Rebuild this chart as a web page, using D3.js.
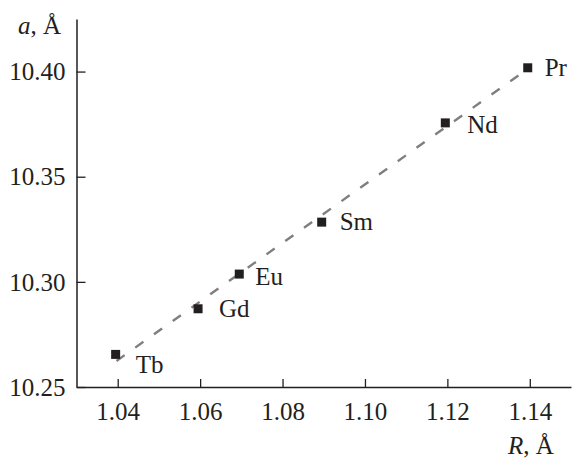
<!DOCTYPE html>
<html>
<head>
<meta charset="utf-8">
<script src="https://cdn.jsdelivr.net/npm/d3@7"></script>
<style>
  html, body { margin: 0; padding: 0; background: #fff; }
  svg { display: block; }
</style>
</head>
<body>
<svg id="chart" width="572" height="459"></svg>
<script>
// ---- data ----
const elements = ["Tb", "Gd", "Eu", "Sm", "Nd", "Pr"];
const radiusR = [1.0395, 1.0595, 1.0695, 1.0895, 1.1195, 1.1395];
const latticeA = [10.2655, 10.2872, 10.3037, 10.3284, 10.3756, 10.4018];
const fitR = [1.0397, 1.1385];
const fitA = [10.2624, 10.3999];
const xTicks = [1.04, 1.06, 1.08, 1.10, 1.12, 1.14];
const yTicks = [10.25, 10.30, 10.35, 10.40];
const xDomain = [1.03, 1.15];
const yDomain = [10.25, 10.425];

// ---- layout ----
const labelDx = [20, 21, 16, 18, 22, 17];
const labelDy = [19, 8, 11, 8, 10, 8];
const ink = "#231f20";
const FONT = "'Liberation Serif', 'Times New Roman', serif";

const svg = d3.select("#chart");
const x = d3.scaleLinear().domain(xDomain).range([76.5, 571]);
const y = d3.scaleLinear().domain(yDomain).range([387, 19]);

// x axis
const xAxis = d3.axisBottom(x).tickValues(xTicks).tickSizeInner(-8).tickSizeOuter(0)
  .tickFormat(d3.format(".2f"));
const gx = svg.append("g").attr("transform", "translate(0,387)").call(xAxis);
gx.attr("font-family", null).attr("font-size", null);
gx.select(".domain").attr("stroke", ink).attr("stroke-width", 1.5);
gx.selectAll(".tick line").attr("stroke", ink).attr("stroke-width", 1.3);
gx.selectAll(".tick text").style("font-family", FONT).style("font-size", "25px")
  .attr("fill", ink).attr("dy", null).attr("y", 33);

// y axis
const yAxis = d3.axisLeft(y).tickValues(yTicks).tickSizeInner(-9).tickSizeOuter(0)
  .tickFormat(d3.format(".2f"));
const gy = svg.append("g").attr("transform", "translate(76.5,0)").call(yAxis);
gy.attr("font-family", null).attr("font-size", null);
gy.select(".domain").attr("stroke", ink).attr("stroke-width", 1.5);
gy.selectAll(".tick line").attr("stroke", ink).attr("stroke-width", 1.3);
gy.selectAll(".tick text").style("font-family", FONT).style("font-size", "25px")
  .attr("fill", ink).attr("x", -11).attr("dy", "0.33em");

// fit line
const fitData = fitR.map((r, i) => [r, fitA[i]]);
svg.append("path")
  .datum(fitData)
  .attr("d", d3.line().x(d => x(d[0])).y(d => y(d[1])))
  .attr("fill", "none")
  .attr("stroke", "#7f7f7f")
  .attr("stroke-width", 2.4)
  .attr("stroke-dasharray", "10,13");

// markers
const pts = elements.map((e, i) => ({ e, r: radiusR[i], a: latticeA[i], dx: labelDx[i], dy: labelDy[i] }));
const ms = 9;
svg.selectAll("rect.pt").data(pts).enter().append("rect")
  .attr("class", "pt")
  .attr("x", d => x(d.r) - ms / 2)
  .attr("y", d => y(d.a) - ms / 2)
  .attr("width", ms).attr("height", ms)
  .attr("fill", ink);

svg.selectAll("text.lbl").data(pts).enter().append("text")
  .attr("class", "lbl")
  .attr("x", d => x(d.r) + d.dx)
  .attr("y", d => y(d.a) + d.dy)
  .style("font-family", FONT).style("font-size", "25px")
  .attr("fill", ink)
  .text(d => d.e);

// axis titles
const yt = svg.append("text").attr("x", 18).attr("y", 34)
  .style("font-family", FONT).style("font-size", "25px").attr("fill", ink);
yt.append("tspan").attr("font-style", "italic").text("a");
yt.append("tspan").text(", Å");

const xt = svg.append("text").attr("x", 508).attr("y", 454)
  .style("font-family", FONT).style("font-size", "25px").attr("fill", ink);
xt.append("tspan").attr("font-style", "italic").text("R");
xt.append("tspan").text(", Å");
</script>
</body>
</html>
